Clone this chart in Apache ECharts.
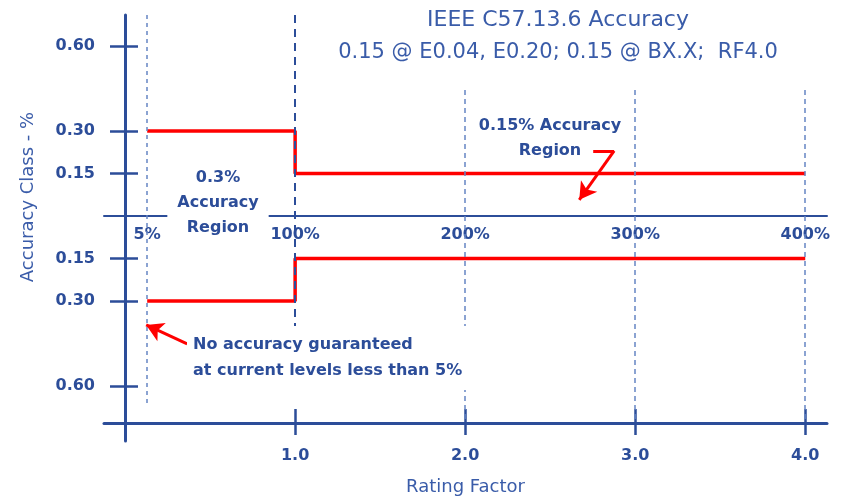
<!DOCTYPE html>
<html>
<head>
<meta charset="utf-8">
<script src="https://cdn.jsdelivr.net/npm/echarts@6/dist/echarts.min.js"></script>
<style>
  html, body { margin: 0; padding: 0; background: #fff; }
  #chart-container { width: 842px; height: 497px; }
</style>
</head>
<body>
<div id="chart-container"></div>
<script>
// rating factor ticks on the bottom axis
const ratingTicks = [1, 2, 3, 4];
const ratingLabels = ['1.0', '2.0', '3.0', '4.0'];
// percent of rated current on the middle axis
const pctTicks = [0.13, 1, 2, 3, 4];
const pctLabels = ['5%', '100%', '200%', '300%', '400%'];
// accuracy class ticks (upper half positive, lower half mirrored)
const classTicks = [0.6, 0.3, 0.15, -0.15, -0.3, -0.6];

// accuracy limit lines
const upperLimit = [[0.13, 0.30], [1.0, 0.30], [1.0, 0.15], [4.0, 0.15]];
const lowerLimit = [[0.13, -0.30], [1.0, -0.30], [1.0, -0.15], [4.0, -0.15]];

// vertical guide lines: x, top, bottom
const guideX = [0.13, 1, 2, 3, 4];
const guideTop = [0.71, 0.71, 0.445, 0.445, 0.445];
const guideBottom = [-0.67, -0.39, -0.73, -0.73, -0.73];

// annotation arrows
const arrowRegion = [[2.753, 0.230], [2.876, 0.230], [2.671, 0.057]];
const arrowNoAcc = [[0.365, -0.452], [0.124, -0.385]];

const blue = '#2c4d99';
const lightBlue = '#3a5ca9';
const dashBlue = '#6685c4';
const font = '"DejaVu Sans", sans-serif';

var dom = document.getElementById('chart-container');
var myChart = echarts.init(dom, null, { renderer: 'canvas' });

const xBase = { type: 'value', min: -0.124, max: 4.128, splitLine: { show: false } };
const yBase = { type: 'value', min: -0.795, max: 0.71, splitLine: { show: false } };

let guides = guideX.map((x, i) => {
    let thick = x === 1;
    return [
        { coord: [x, guideTop[i]], symbol: 'none',
          lineStyle: { type: thick ? [8, 6] : (i === 0 ? [4, 4] : [5, 4]), width: thick ? 2 : 1.5, color: thick ? blue : dashBlue } },
        { coord: [x, guideBottom[i]], symbol: 'none' }
    ];
});

let arrows = [
    [{ coord: arrowRegion[0], symbol: 'none' }, { coord: arrowRegion[1], symbol: 'none' }],
    [{ coord: arrowRegion[1], symbol: 'none' }, { coord: arrowRegion[2], symbol: 'arrow', symbolSize: [15, 17] }],
    [{ coord: arrowNoAcc[0], symbol: 'none' }, { coord: arrowNoAcc[1], symbol: 'arrow', symbolSize: [15, 17] }]
];

var option = {
    animation: false,
    grid: { left: 104, right: 15, top: 15, bottom: 56, outerBoundsMode: 'none' },
    xAxis: [
        Object.assign({}, xBase, {
            position: 'bottom', offset: -18,
            name: 'Rating Factor', nameLocation: 'middle', nameGap: 55,
            nameTextStyle: { color: lightBlue, fontSize: 18, fontFamily: font },
            axisLine: { onZero: false, lineStyle: { color: blue, width: 3 } },
            axisTick: { customValues: ratingTicks, length: 12, lineStyle: { color: blue, width: 2.5 } },
            axisLabel: {
                customValues: ratingTicks, margin: 25, color: blue, fontSize: 16, fontWeight: 'bold', fontFamily: font,
                formatter: v => ratingLabels[ratingTicks.indexOf(v)]
            }
        }),
        Object.assign({}, xBase, {
            position: 'bottom', offset: -18,
            axisLine: { show: false, onZero: false },
            axisTick: { customValues: ratingTicks, inside: true, length: 14, lineStyle: { color: blue, width: 2.5 } },
            axisLabel: { show: false }
        }),
        Object.assign({}, xBase, {
            position: 'bottom', offset: -225,
            axisLine: { onZero: false, lineStyle: { color: blue, width: 2 } },
            axisTick: { show: false },
            axisLabel: {
                customValues: pctTicks, margin: 11, color: blue, fontSize: 16, fontWeight: 'bold', fontFamily: font,
                formatter: v => pctLabels[pctTicks.indexOf(v)]
            }
        })
    ],
    yAxis: [
        Object.assign({}, yBase, {
            position: 'left', offset: -21,
            axisLine: { onZero: false, lineStyle: { color: blue, width: 3 } },
            axisTick: { customValues: classTicks, length: 15, lineStyle: { color: blue, width: 2.5 } },
            axisLabel: {
                customValues: classTicks, margin: 30, color: blue, fontSize: 16, fontWeight: 'bold', fontFamily: font,
                formatter: v => Math.abs(v).toFixed(2)
            }
        }),
        Object.assign({}, yBase, {
            position: 'left', offset: -21,
            axisLine: { show: false, onZero: false },
            axisTick: { customValues: classTicks, inside: true, length: 13, lineStyle: { color: blue, width: 2.5 } },
            axisLabel: { show: false }
        })
    ],
    series: [
        {
            type: 'line', name: 'guides', data: [], z: 1,
            markLine: { silent: true, label: { show: false }, data: guides }
        },
        {
            type: 'line', name: 'Upper limit', data: upperLimit, symbol: 'none', z: 3,
            lineStyle: { color: '#ff0000', width: 3.5 }
        },
        {
            type: 'line', name: 'Lower limit', data: lowerLimit, symbol: 'none', z: 3,
            lineStyle: { color: '#ff0000', width: 3.5 }
        },
        {
            type: 'line', name: 'arrows', data: [], z: 4,
            markLine: {
                silent: true, label: { show: false },
                lineStyle: { color: '#ff0000', width: 3, type: 'solid' },
                itemStyle: { color: '#ff0000' },
                data: arrows
            }
        }
    ],
    graphic: [
        { type: 'text', x: 558, y: 20, z: 100,
          style: { text: 'IEEE C57.13.6 Accuracy', align: 'center', verticalAlign: 'middle', fill: lightBlue, font: '22px ' + font } },
        { type: 'text', x: 558, y: 53, z: 100,
          style: { text: '0.15 @ E0.04, E0.20; 0.15 @ BX.X;  RF4.0', align: 'center', verticalAlign: 'middle', fill: lightBlue, font: '21px ' + font } },
        { type: 'text', x: 28, y: 197, z: 100, rotation: Math.PI / 2,
          style: { text: 'Accuracy Class - %', align: 'center', verticalAlign: 'middle', fill: lightBlue, font: '18px ' + font } },
        { type: 'text', x: 550, y: 138, z: 100,
          style: { text: '0.15% Accuracy\nRegion', align: 'center', verticalAlign: 'middle', lineHeight: 25, fill: blue, font: 'bold 16px ' + font } },
        { type: 'text', x: 218, y: 203, z: 100,
          style: { text: '0.3%\nAccuracy\nRegion', align: 'center', verticalAlign: 'middle', lineHeight: 25, fill: blue,
                   font: 'bold 16px ' + font, backgroundColor: '#fff', padding: [0, 10] } },
        { type: 'text', x: 187, y: 358, z: 100,
          style: { text: 'No accuracy guaranteed\nat current levels less than 5%', align: 'left', verticalAlign: 'middle', lineHeight: 26,
                   fill: blue, font: 'bold 16px ' + font, backgroundColor: '#fff', padding: [6, 6] } }
    ]
};

myChart.setOption(option);
window.addEventListener('resize', myChart.resize);
</script>
</body>
</html>
